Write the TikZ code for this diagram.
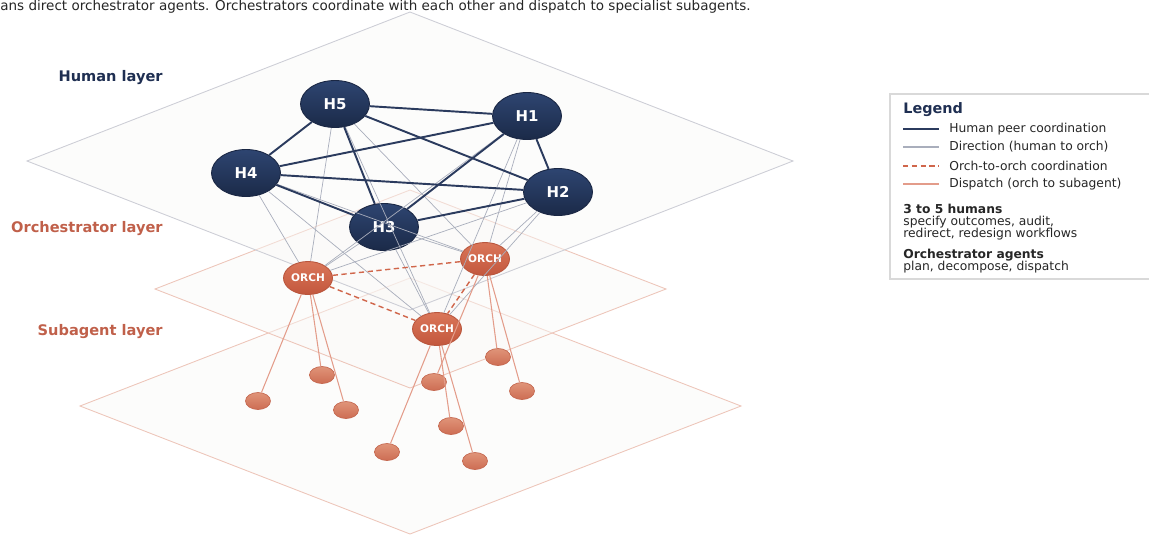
\documentclass[tikz,border=0pt]{standalone}
\usepackage{fontspec}
\setmainfont{DejaVu Sans}
\usetikzlibrary{shapes.geometric}

\definecolor{humantop}{HTML}{2E4571}
\definecolor{humanbot}{HTML}{1B2A48}
\definecolor{humanline}{HTML}{1A2744}
\definecolor{peerc}{HTML}{2B3B5E}
\definecolor{dirc}{HTML}{A9AEBC}
\definecolor{orchtop}{HTML}{DA7659}
\definecolor{orchbot}{HTML}{C3573D}
\definecolor{orchline}{HTML}{B9563D}
\definecolor{subtop}{HTML}{E09479}
\definecolor{subbot}{HTML}{CD6D53}
\definecolor{subline}{HTML}{C56A52}
\definecolor{dispc}{HTML}{E39C8A}
\definecolor{dashc}{HTML}{D0664B}
\definecolor{planefill}{HTML}{F9F8F6}
\definecolor{humanplane}{HTML}{CDCED6}
\definecolor{agentplane}{HTML}{EDC6BA}
\definecolor{humanlabel}{HTML}{1F2F52}
\definecolor{agentlabel}{HTML}{C0604A}
\definecolor{textgray}{HTML}{262626}
\definecolor{legframe}{HTML}{D9D9D9}

\begin{document}
\begin{tikzpicture}[x=0.02cm, y=-0.02cm,
    human/.style={ellipse, draw=humanline, line width=0.5pt, top color=humantop, bottom color=humanbot,
      minimum width=1.38cm, minimum height=0.94cm, inner sep=0pt, text=white,
      font=\bfseries\fontsize{8.5}{10}\selectfont},
    orch/.style={ellipse, draw=orchline, line width=0.5pt, top color=orchtop, bottom color=orchbot,
      minimum width=0.98cm, minimum height=0.66cm, inner sep=0pt, text=white,
      font=\bfseries\fontsize{6}{7}\selectfont},
    subagent/.style={ellipse, draw=subline, line width=0.4pt, top color=subtop, bottom color=subbot,
      minimum width=0.5cm, minimum height=0.34cm, inner sep=0pt},
    plane/.style={fill=planefill, fill opacity=0.45, line width=0.5pt},
    peer/.style={peerc, line width=1.1pt},
    dirline/.style={dirc, line width=0.4pt},
    orchdash/.style={dashc, line width=0.8pt, dash pattern=on 3pt off 2pt},
    displine/.style={dispc, line width=0.6pt},
    layerlabel/.style={anchor=east, inner sep=0pt, font=\bfseries\fontsize{8.3}{10}\selectfont},
    legtext/.style={anchor=west, inner sep=0pt, text=textgray, font=\fontsize{7}{8.5}\selectfont},
    leghead/.style={anchor=west, inner sep=0pt, text=textgray, font=\bfseries\fontsize{7}{8.5}\selectfont},
  ]
  \useasboundingbox (0,0) rectangle (1149,535);

  % レイヤー
  \filldraw[plane, draw=agentplane] (80,406) -- (410,278) -- (741,406) -- (410,534) -- cycle;
  \filldraw[plane, draw=agentplane] (155,289) -- (410,190) -- (666,289) -- (410,388) -- cycle;
  \filldraw[plane, draw=humanplane] (27,161) -- (410,12) -- (793,161) -- (410,310) -- cycle;

  \node[layerlabel, text=humanlabel] (lhuman) at (163,78) {Human layer};
  \node[layerlabel, text=agentlabel] (lorch) at (163,229) {Orchestrator layer};
  \node[layerlabel, text=agentlabel] (lsub) at (163,332) {Subagent layer};

  % タイトル
  \node[legtext, font=\fontsize{7.7}{9}\selectfont] (title) at (0,7) {ans direct orchestrator agents. Orchestrators coordinate with each other and dispatch to specialist subagents.};

  % ノード
  \node[human] (H5) at (335,104) {H5};
  \node[human] (H1) at (527,116) {H1};
  \node[human] (H4) at (246,173) {H4};
  \node[human] (H2) at (558,192) {H2};
  \node[human] (H3) at (384,227) {H3};

  \node[orch] (O1) at (308,278) {ORCH};
  \node[orch] (O2) at (485,259) {ORCH};
  \node[orch] (O3) at (437,329) {ORCH};

  \node[subagent] (S1) at (258,401) {};
  \node[subagent] (S2) at (322,375) {};
  \node[subagent] (S3) at (346,410) {};
  \node[subagent] (S4) at (434,382) {};
  \node[subagent] (S5) at (498,357) {};
  \node[subagent] (S6) at (522,391) {};
  \node[subagent] (S7) at (387,452) {};
  \node[subagent] (S8) at (451,426) {};
  \node[subagent] (S9) at (475,461) {};

  % エッジ
  \foreach \h in {H1,H2,H3,H4,H5}
    \foreach \o in {O1,O2,O3}
      \draw[dirline] (\h) -- (\o);

  \draw[displine] (O1) -- (S1);
  \draw[displine] (O1) -- (S2);
  \draw[displine] (O1) -- (S3);
  \draw[displine] (O2) -- (S4);
  \draw[displine] (O2) -- (S5);
  \draw[displine] (O2) -- (S6);
  \draw[displine] (O3) -- (S7);
  \draw[displine] (O3) -- (S8);
  \draw[displine] (O3) -- (S9);

  \draw[orchdash] (O1) -- (O2);
  \draw[orchdash] (O1) -- (O3);
  \draw[orchdash] (O2) -- (O3);

  \draw[peer] (H5) -- (H1);
  \draw[peer] (H5) -- (H4);
  \draw[peer] (H5) -- (H3);
  \draw[peer] (H5) -- (H2);
  \draw[peer] (H1) -- (H4);
  \draw[peer] (H1) -- (H2);
  \draw[peer] (H1) -- (H3);
  \draw[peer] (H4) -- (H2);
  \draw[peer] (H4) -- (H3);
  \draw[peer] (H3) -- (H2);

  % 凡例
  \draw[legframe, fill=white, line width=0.6pt] (890,94) rectangle (1160,279);
  \node[anchor=west, inner sep=0pt, text=humanlabel, font=\bfseries\fontsize{8.2}{10}\selectfont] (leghd) at (903,110) {Legend};
  \foreach \y/\sty/\txt in {129/peer/Human peer coordination,
      147/dirline/Direction (human to orch),
      166/orchdash/Orch-to-orch coordination,
      184/displine/Dispatch (orch to subagent)} {
    \draw[\sty, line width=0.7pt] (903,\y) -- (939,\y);
    \node[legtext] (leg\y) at (949,\y) {\txt};
  }
  \node[leghead] (hum) at (903,209) {3 to 5 humans};
  \node[legtext] (hum1) at (903,222) {specify outcomes, audit,};
  \node[legtext] (hum2) at (903,234) {redirect, redesign workflows};
  \node[leghead] (agt) at (903,255) {Orchestrator agents};
  \node[legtext] (agt1) at (903,267) {plan, decompose, dispatch};
\end{tikzpicture}
\end{document}
